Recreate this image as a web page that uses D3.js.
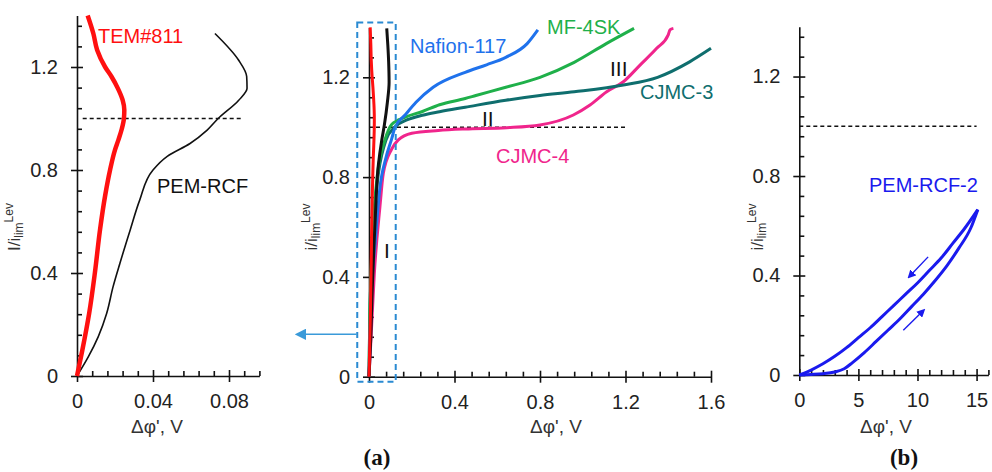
<!DOCTYPE html>
<html><head><meta charset="utf-8">
<script src="https://cdn.jsdelivr.net/npm/d3@7"></script>
<style>
body{margin:0;background:#fff;}
svg{display:block;font-family:"Liberation Sans",Arial,sans-serif;}
</style></head>
<body>
<svg id="c" width="992" height="472"></svg>
<script>
// ---------- DATA ----------
// Left panel
const temI = [0, 0.1, 0.243, 0.4, 0.567, 0.7, 0.8, 0.878, 0.917, 0.96, 1.0, 1.033, 1.072, 1.117, 1.162, 1.2, 1.266, 1.33, 1.4];
const temV = [0, 0.0028, 0.0064, 0.0094, 0.0121, 0.0148, 0.0174, 0.0200, 0.0218, 0.0236, 0.0247, 0.0249, 0.0240, 0.0215, 0.0182, 0.0148, 0.0106, 0.0086, 0.0056];
const pemI = [0, 0.075, 0.153, 0.243, 0.347, 0.438, 0.567, 0.683, 0.8, 0.853, 0.903, 0.955, 1.0, 1.07, 1.117, 1.163, 1.227, 1.33];
const pemV = [0, 0.006, 0.0112, 0.0156, 0.019, 0.0226, 0.028, 0.033, 0.040, 0.0475, 0.0595, 0.0685, 0.0743, 0.085, 0.0895, 0.0893, 0.085, 0.0726];
// Middle panel
const pemMidI = [0, 0.15, 0.35, 0.5, 0.65, 0.85, 0.95, 1.01, 1.1, 1.18, 1.26, 1.33, 1.396];
const pemMidV = [0, 0.008, 0.015, 0.022, 0.03, 0.044, 0.06, 0.072, 0.086, 0.094, 0.092, 0.088, 0.083];
const nafionV = [0, 0.003, 0.008, 0.03, 0.05, 0.08, 0.105, 0.122, 0.17, 0.22, 0.3, 0.45, 0.55, 0.64, 0.74, 0.79];
const nafionI = [0, 0.1, 0.28, 0.55, 0.75, 0.88, 0.95, 1.0, 1.05, 1.1, 1.16, 1.22, 1.25, 1.28, 1.335, 1.39];
const mf4skV = [0, 0.003, 0.009, 0.025, 0.04, 0.075, 0.105, 0.17, 0.25, 0.33, 0.45, 0.5, 0.64, 0.8, 0.96, 1.11, 1.24];
const mf4skI = [0, 0.2, 0.41, 0.68, 0.815, 0.95, 1.01, 1.04, 1.063, 1.09, 1.115, 1.127, 1.16, 1.2, 1.26, 1.335, 1.396];
const cjmc3V = [0, 0.003, 0.01, 0.027, 0.045, 0.08, 0.12, 0.18, 0.25, 0.33, 0.45, 0.64, 0.8, 0.96, 1.19, 1.35, 1.5, 1.6];
const cjmc3I = [0, 0.2, 0.41, 0.68, 0.82, 0.95, 1.0, 1.03, 1.048, 1.062, 1.08, 1.108, 1.127, 1.142, 1.169, 1.2, 1.262, 1.316];
const cjmc4V = [0, 0.009, 0.025, 0.051, 0.067, 0.106, 0.137, 0.2, 0.324, 0.449, 0.644, 0.8, 0.956, 1.034, 1.112, 1.19, 1.268, 1.346, 1.4, 1.408, 1.424];
const cjmc4I = [0, 0.147, 0.414, 0.68, 0.815, 0.912, 0.949, 0.976, 0.987, 0.993, 0.998, 1.009, 1.049, 1.089, 1.142, 1.182, 1.249, 1.316, 1.37, 1.39, 1.396];
// Right panel (PEM-RCF-2 hysteresis loop)
const loopUpV = [0, 1, 2, 3, 4, 5, 6, 7, 8, 9, 10, 11, 12, 13, 14, 15.1];
const loopUpI = [0, 0.02, 0.045, 0.075, 0.11, 0.15, 0.19, 0.235, 0.28, 0.325, 0.37, 0.42, 0.47, 0.53, 0.59, 0.665];
const loopLoV = [0, 1, 2, 3, 3.8, 4.5, 5.5, 6.5, 7.5, 8.5, 9.5, 10.5, 11.5, 12.5, 13.5, 14.5, 15.1];
const loopLoI = [0, 0.002, 0.005, 0.012, 0.025, 0.05, 0.09, 0.135, 0.18, 0.225, 0.275, 0.325, 0.38, 0.44, 0.51, 0.59, 0.665];
// Ticks
const yMajor = [0, 0.4, 0.8, 1.2];
const yMinor = [0.08, 0.16, 0.24, 0.32, 0.48, 0.56, 0.64, 0.72, 0.88, 0.96, 1.04, 1.12, 1.28, 1.36];
const xMajorL = [0, 0.04, 0.08];
const xMinorL = [0.008, 0.016, 0.024, 0.032, 0.048, 0.056, 0.064, 0.072, 0.088, 0.096];
const xMajorM = [0, 0.4, 0.8, 1.2, 1.6];
const xMinorM = [0.08, 0.16, 0.24, 0.32, 0.48, 0.56, 0.64, 0.72, 0.88, 0.96, 1.04, 1.12, 1.28, 1.36, 1.44, 1.52];
const xMajorR = [0, 5, 10, 15];
const xMinorR = [1, 2, 3, 4, 6, 7, 8, 9, 11, 12, 13, 14, 16];
const xLabelsL = ["0", "0.04", "0.08"];
const xLabelsM = ["0", "0.4", "0.8", "1.2", "1.6"];
const xLabelsR = ["0", "5", "10", "15"];
const yLabels = ["0", "0.4", "0.8", "1.2"];
const refLevel = 1.0;

// ---------- DRAW ----------
const svg = d3.select("#c");
const zip = (xs, ys) => xs.map((v, k) => [v, ys[k]]);

function panel(cfg) {
  const x = d3.scaleLinear().domain(cfg.xd).range(cfg.xr);
  const y = d3.scaleLinear().domain([0, 1.4]).range(cfg.yr);
  const g = svg.append("g");
  const y0 = y(0), x0 = x(0);
  const ax = g.append("g").attr("transform", `translate(0,${y0})`)
    .call(d3.axisBottom(x).tickValues(cfg.xMajor).tickSizeInner(6).tickSizeOuter(0).tickPadding(12)
      .tickFormat((d, k) => cfg.xLabels[k]));
  ax.selectAll(".tick line").attr("y1", -6);
  g.append("g").attr("transform", `translate(0,${y0})`)
    .call(d3.axisTop(x).tickValues(cfg.xMinor).tickSize(5).tickFormat(""))
    .select(".domain").remove();
  const ay = g.append("g").attr("transform", `translate(${x0},0)`)
    .call(d3.axisLeft(y).tickValues(yMajor).tickSizeInner(6).tickSizeOuter(0).tickPadding(13)
      .tickFormat((d, k) => yLabels[k]));
  ay.selectAll(".tick line").attr("x1", 6);
  g.append("g").attr("transform", `translate(${x0},0)`)
    .call(d3.axisRight(y).tickValues(yMinor).tickSize(5).tickFormat(""))
    .select(".domain").remove();
  g.selectAll(".domain, .tick line").attr("stroke", "#111").attr("stroke-width", 1.6);
  g.selectAll(".tick text").attr("font-size", 20).attr("fill", "#222")
    .attr("font-family", '"Liberation Sans",Arial,sans-serif');
  g.append("text").attr("x", cfg.xtX).attr("y", 433).attr("text-anchor", "middle")
    .attr("font-size", 19).attr("fill", "#333").text("Δφ', V");
  const yt = g.append("text").attr("transform", `translate(${cfg.ytX},227) rotate(-90)`)
    .attr("text-anchor", "middle").attr("font-size", 17).attr("fill", "#333");
  yt.append("tspan").text(cfg.ytFirst + "/i");
  yt.append("tspan").attr("font-size", 12).attr("dy", 3).text("lim");
  yt.append("tspan").attr("font-size", 12).attr("dy", -10).text("Lev");
  g.append("line").attr("x1", x(cfg.dash[0])).attr("x2", x(cfg.dash[1]))
    .attr("y1", y(refLevel)).attr("y2", y(refLevel))
    .attr("stroke", "#111").attr("stroke-width", 1.4).attr("stroke-dasharray", "4,3");
  return { g, x, y };
}

const lineY = (p) => d3.line().x(d => p.x(d[0])).y(d => p.y(d[1])).curve(d3.curveMonotoneY);
const lineX = (p) => d3.line().x(d => p.x(d[0])).y(d => p.y(d[1])).curve(d3.curveMonotoneX);

// Left panel
const L = panel({ xd: [0, 0.096], xr: [77, 259.4], yr: [376, 15.5], xMajor: xMajorL, xMinor: xMinorL,
  xLabels: xLabelsL, xtX: 157, ytX: 20, ytFirst: "I", dash: [0.003, 0.0863] });
L.g.append("path").datum(zip(pemV, pemI)).attr("d", lineY(L)).attr("fill", "none").attr("stroke", "#111").attr("stroke-width", 1.6);
L.g.append("path").datum(zip(temV, temI)).attr("d", lineY(L)).attr("fill", "none").attr("stroke", "#ff1010").attr("stroke-width", 4.5);
L.g.append("text").attr("x", 98).attr("y", 43).attr("font-size", 20).attr("fill", "#ff1010").text("TEM#811");
L.g.append("text").attr("x", 157).attr("y", 193).attr("font-size", 20).attr("fill", "#111").text("PEM-RCF");

// Middle panel
const M = panel({ xd: [0, 1.6], xr: [369, 711], yr: [376.7, 27.4], xMajor: xMajorM, xMinor: xMinorM,
  xLabels: xLabelsM, xtX: 556, ytX: 317, ytFirst: "i", dash: [0, 1.2] });
const midSeries = [
  [cjmc4V, cjmc4I, "#f0258c", lineX],
  [cjmc3V, cjmc3I, "#0f6e6e", lineX],
  [mf4skV, mf4skI, "#1fb04a", lineX],
  [nafionV, nafionI, "#1f72ec", lineX],
  [pemMidV, pemMidI, "#111", lineY],
  [temV, temI, "#ff1010", lineY]
];
midSeries.forEach(s => {
  M.g.append("path").datum(zip(s[0], s[1])).attr("d", s[3](M)).attr("fill", "none")
    .attr("stroke", s[2]).attr("stroke-width", 3);
});
const mLabels = [
  ["Nafion-117", 410, 53, "#1f72ec", 20],
  ["MF-4SK", 547, 34, "#1fb04a", 20],
  ["CJMC-3", 640, 99, "#0f6e6e", 20],
  ["CJMC-4", 496, 163, "#f0258c", 20],
  ["III", 610, 76, "#111", 21],
  ["II", 482, 126, "#111", 21],
  ["I", 384, 258, "#111", 21]
];
mLabels.forEach(t => M.g.append("text").attr("x", t[1]).attr("y", t[2]).attr("fill", t[3])
  .attr("font-size", t[4]).text(t[0]));
M.g.append("rect").attr("x", M.x(-0.055)).attr("y", M.y(1.42)).attr("width", M.x(0.125) - M.x(-0.055))
  .attr("height", M.y(-0.02) - M.y(1.42)).attr("fill", "none").attr("stroke", "#2a8ad2")
  .attr("stroke-width", 2).attr("stroke-dasharray", "6,4");
svg.append("defs").html(
  '<marker id="ah" viewBox="0 0 10 10" refX="1" refY="5" markerWidth="7" markerHeight="7" orient="auto-start-reverse"><path d="M0,0 L10,5 L0,10 z" fill="#3a9ad9"/></marker>' +
  '<marker id="bh" viewBox="0 0 10 10" refX="1" refY="5" markerWidth="6" markerHeight="6" orient="auto"><path d="M0,0 L10,5 L0,10 z" fill="#1a1aee"/></marker>');
M.g.append("line").attr("x1", M.x(-0.058)).attr("x2", M.x(-0.3)).attr("y1", M.y(0.17)).attr("y2", M.y(0.17))
  .attr("stroke", "#3a9ad9").attr("stroke-width", 1.6).attr("marker-end", "url(#ah)");

// Right panel
const R = panel({ xd: [0, 16], xr: [799.3, 988.4], yr: [375, 26.8], xMajor: xMajorR, xMinor: xMinorR,
  xLabels: xLabelsR, xtX: 886, ytX: 763, ytFirst: "i", dash: [0, 15] });
[[loopUpV, loopUpI], [loopLoV, loopLoI]].forEach(s => {
  R.g.append("path").datum(zip(s[0], s[1])).attr("d", lineX(R)).attr("fill", "none")
    .attr("stroke", "#1a1aee").attr("stroke-width", 3);
});
R.g.append("line").attr("x1", R.x(10.9)).attr("y1", R.y(0.475)).attr("x2", R.x(9.6)).attr("y2", R.y(0.41))
  .attr("stroke", "#1a1aee").attr("stroke-width", 1.4).attr("marker-end", "url(#bh)");
R.g.append("line").attr("x1", R.x(8.8)).attr("y1", R.y(0.18)).attr("x2", R.x(10.2)).attr("y2", R.y(0.245))
  .attr("stroke", "#1a1aee").attr("stroke-width", 1.4).attr("marker-end", "url(#bh)");
R.g.append("text").attr("x", 869).attr("y", 192).attr("font-size", 20).attr("fill", "#1a1aee").text("PEM-RCF-2");

svg.append("text").attr("x", 377).attr("y", 465).attr("text-anchor", "middle")
  .attr("font-family", '"Liberation Serif","Times New Roman",serif').attr("font-weight", "bold")
  .attr("font-size", 23).attr("fill", "#111").text("(a)");
svg.append("text").attr("x", 904).attr("y", 465).attr("text-anchor", "middle")
  .attr("font-family", '"Liberation Serif","Times New Roman",serif').attr("font-weight", "bold")
  .attr("font-size", 23).attr("fill", "#111").text("(b)");
</script>
</body></html>
